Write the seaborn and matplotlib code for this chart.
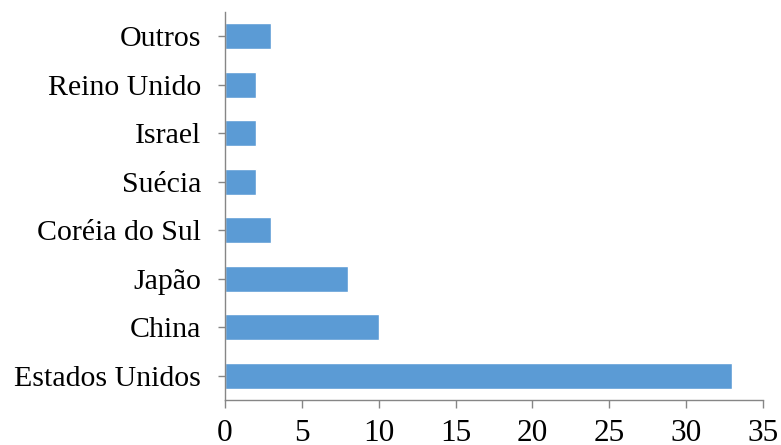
import matplotlib
matplotlib.use("Agg")
import matplotlib.pyplot as plt
import seaborn as sns
import pandas as pd

countries = ["Outros", "Reino Unido", "Israel", "Suécia", "Coréia do Sul",
             "Japão", "China", "Estados Unidos"]
counts = [3, 2, 2, 2, 3, 8, 10, 33]
x_ticks = [0, 5, 10, 15, 20, 25, 30, 35]

df = pd.DataFrame({"pais": countries, "n": counts})

sns.set_theme(style="white")
plt.rcParams["font.family"] = ["Liberation Serif", "DejaVu Serif"]

fig = plt.figure(figsize=(7.81, 4.45), dpi=100)
ax = fig.add_axes([0.288, 0.101, 0.689, 0.872])

sns.barplot(data=df, x="n", y="pais", order=countries, color="#5B9BD5",
            saturation=1, width=0.54, ax=ax)

ax.set_xlim(0, 35)
ax.set_ylim(7.5, -0.5)
ax.set_xticks(x_ticks)
ax.set_xlabel("")
ax.set_ylabel("")

for side in ["top", "right"]:
    ax.spines[side].set_visible(False)
for side in ["left", "bottom"]:
    ax.spines[side].set_color("#868686")
    ax.spines[side].set_linewidth(1.0)

ax.tick_params(axis="x", direction="out", length=6, width=1, color="#868686",
               labelsize=22.5, labelcolor="black", pad=8, bottom=True)
ax.tick_params(axis="y", direction="out", length=5, width=1, color="#868686",
               labelsize=21.5, labelcolor="black", pad=12, left=True)

fig.savefig("out.png", dpi=100)
